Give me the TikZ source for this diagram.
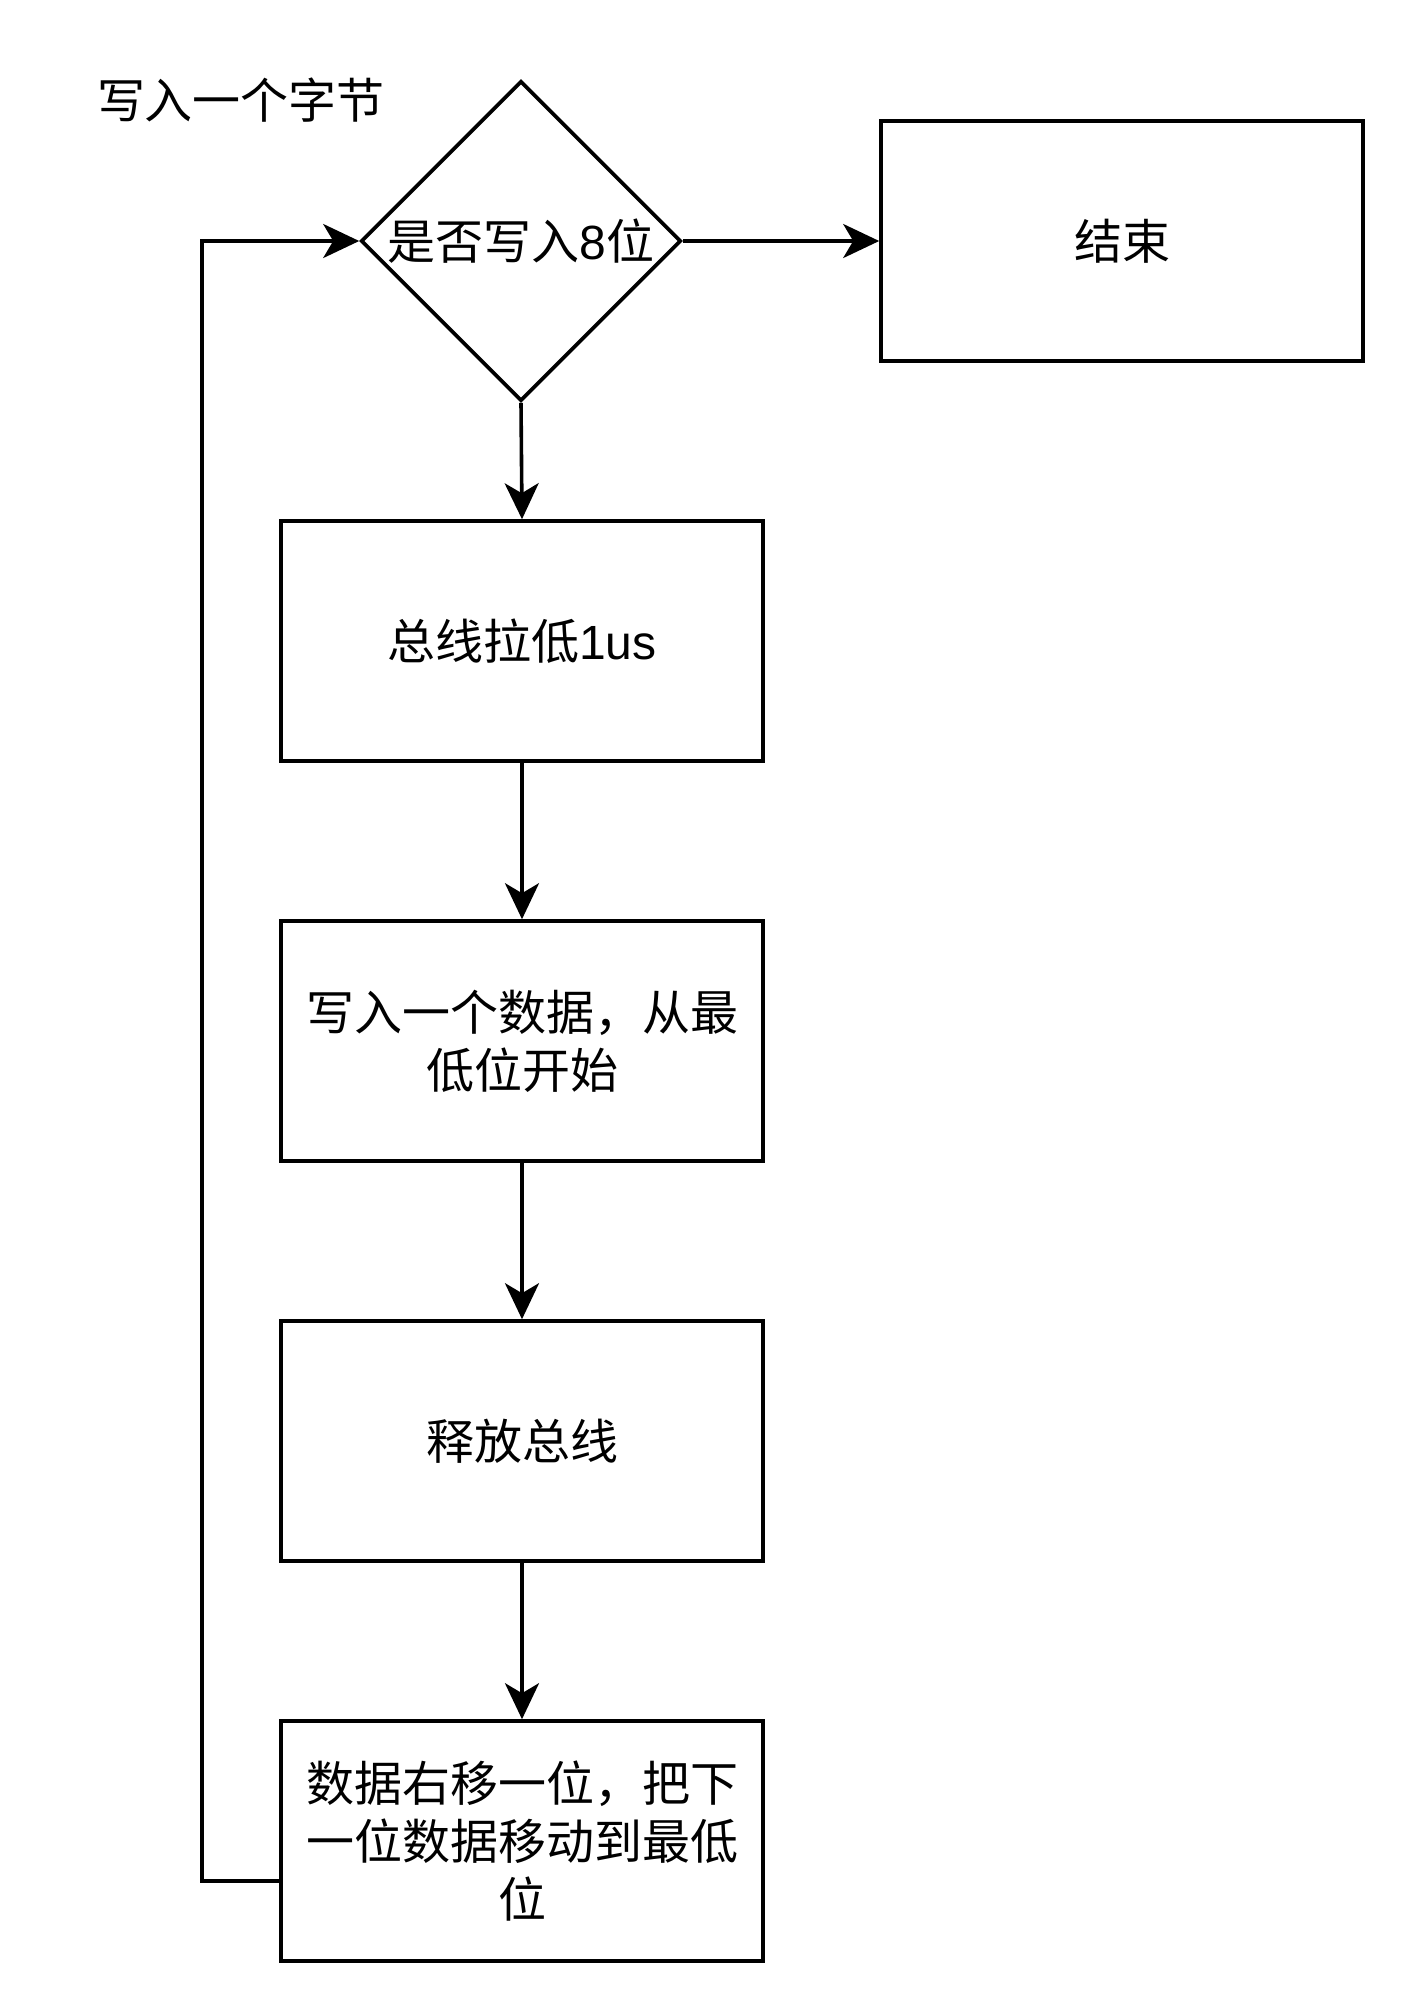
\documentclass[tikz,border=0pt]{standalone}
\usepackage{fontspec}
\setmainfont{Liberation Sans}
\newfontfamily\cjk{Noto Sans CJK SC}
\usetikzlibrary{shapes.geometric,arrows.meta}
\begin{document}
\begin{tikzpicture}[x=0.5pt,y=-0.5pt,
  box/.style={draw, line width=1.8pt, minimum width=241pt, minimum height=120pt, inner sep=0pt, align=center, font=\fontsize{24}{29}\selectfont},
  decision/.style={draw, diamond, line width=1.8pt, minimum width=160pt, minimum height=160pt, inner sep=0pt},
  txt/.style={font=\fontsize{24}{29}\selectfont, inner sep=0pt, align=center},
  flow/.style={line width=1.8pt, -{Stealth[length=18pt,width=17pt,inset=5pt]}}
]
\useasboundingbox (0,0) rectangle (1404,2004);
\node[txt] (title) at (241,100) {\cjk 写入一个字节};
\node[decision] (d) at (521,241) {};
\node[txt] (dt) at (d.center) {{\cjk 是否写入}8{\cjk 位}};
\node[box] (e) at (1122,241) {\cjk 结束};
\node[box] (b1) at (522,641) {{\cjk 总线拉低}1us};
\node[box] (b2) at (522,1041) {\cjk 写入一个数据，从最\\\cjk 低位开始};
\node[box] (b3) at (522,1441) {\cjk 释放总线};
\node[box] (b4) at (522,1841) {\cjk 数据右移一位，把下\\\cjk 一位数据移动到最低\\\cjk 位};
\coordinate (lx) at (202,0);
\coordinate (lp) at ([yshift=-20pt]b4.west);
\draw[flow] (d.east) -- (e.west);
\draw[flow] (d.south) -- (b1.north);
\draw[flow] (b1.south) -- (b2.north);
\draw[flow] (b2.south) -- (b3.north);
\draw[flow] (b3.south) -- (b4.north);
\draw[flow] (lp) -- (lp -| lx) |- (d.west);
\end{tikzpicture}
\end{document}
